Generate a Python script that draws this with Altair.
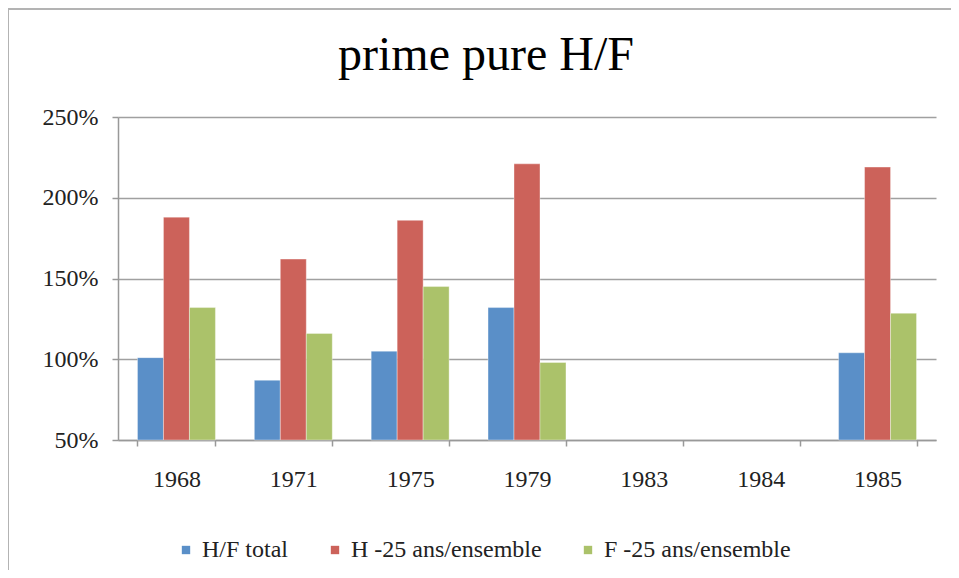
import altair as alt
import pandas as pd

years = ["1968", "1971", "1975", "1979", "1983", "1984", "1985"]
series = ["H/F total", "H -25 ans/ensemble", "F -25 ans/ensemble"]
hf_total = [1.01, 0.87, 1.05, 1.32, None, None, 1.04]
h_25 = [1.88, 1.62, 1.86, 2.21, None, None, 2.19]
f_25 = [1.32, 1.16, 1.45, 0.98, None, None, 1.285]
colors = ["#5A8FC8", "#CC625A", "#ABC26A"]
title_text = ["prime pure H/F"]

rows = []
for s, vals in zip(series, [hf_total, h_25, f_25]):
    for y, v in zip(years, vals):
        rows.append({"year": y, "series": s, "value": v})
df = pd.DataFrame(rows)
one = pd.DataFrame({"t": title_text})

FONT = "Liberation Serif, Times New Roman, serif"
W, H = 818, 323

bars = alt.Chart(df).mark_bar(stroke="white", strokeWidth=0.6, strokeOpacity=0.6).encode(
    x=alt.X("year:N", sort=years,
            scale=alt.Scale(domain=years, paddingInner=0.333, paddingOuter=0.1667),
            axis=alt.Axis(title=None, labelAngle=0, tickBand="extent", tickSize=6,
                          tickColor="#999999", domainColor="#999999", domainWidth=1.5,
                          tickWidth=1.5, labelPadding=21, labelFontSize=24,
                          labelFont=FONT, labelColor="#222222", grid=False)),
    xOffset=alt.XOffset("series:N", sort=series, scale=alt.Scale(domain=series, paddingInner=0)),
    y=alt.Y("value:Q",
            scale=alt.Scale(domain=[0.5, 2.5], zero=False, nice=False),
            axis=alt.Axis(title=None, format=".0%", values=[0.5, 1.0, 1.5, 2.0, 2.5],
                          tickSize=6, tickColor="#999999", domainColor="#999999",
                          domainWidth=1.5, tickWidth=1.5, gridColor="#a0a0a0",
                          gridWidth=1.5, labelPadding=14, labelFontSize=24,
                          labelFont=FONT, labelColor="#222222")),
    y2=alt.datum(0.5),
    color=alt.Color("series:N", sort=series,
                    scale=alt.Scale(domain=series, range=colors),
                    legend=alt.Legend(title=None, orient="none", direction="horizontal",
                                      legendX=56, legendY=421, symbolType="square",
                                      symbolSize=70, symbolStrokeWidth=0,
                                      labelFont=FONT, labelFontSize=24, labelLimit=0,
                                      labelColor="#222222", columnPadding=34,
                                      labelOffset=4)),
)

title = alt.Chart(one).mark_text(font=FONT, fontSize=48, color="#000000",
                                 align="center", baseline="alphabetic").encode(
    x=alt.value(368), y=alt.value(-47), text="t:N"
)

left_border = alt.Chart(one).mark_rule(color="#b3b3b3", strokeWidth=2, clip=False).encode(
    x=alt.value(-110), y=alt.value(-109), y2=alt.value(460)
)
top_border = alt.Chart(one).mark_rule(color="#b3b3b3", strokeWidth=2, clip=False).encode(
    x=alt.value(-110), x2=alt.value(840), y=alt.value(-108)
)

chart = alt.layer(bars, title, left_border, top_border).properties(
    width=W, height=H,
    background="white",
    autosize=alt.AutoSizeParams(type="none"),
    padding={"left": 110, "top": 109, "right": 15, "bottom": 130},
).configure_view(stroke=None, strokeWidth=0, strokeOpacity=0)

chart.save("out.html", embed_options={"renderer": "svg", "actions": False})
